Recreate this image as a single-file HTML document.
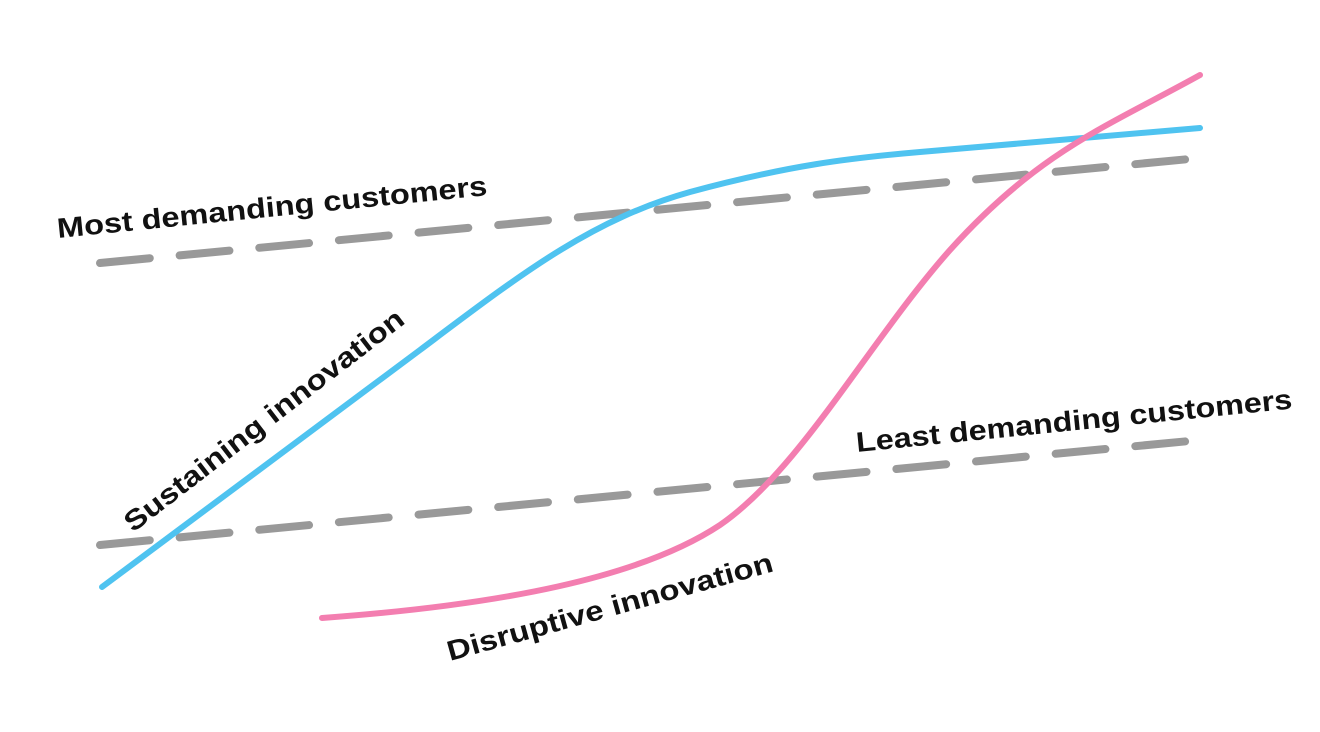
<!DOCTYPE html>
<html><head><meta charset="utf-8"><style>
html,body{margin:0;padding:0;background:#fff;}
svg{display:block;}
text{font-family:"Liberation Sans",sans-serif;font-weight:bold;font-size:28px;fill:#111;}
</style></head><body>
<svg width="1320" height="732" viewBox="0 0 1320 732" xmlns="http://www.w3.org/2000/svg">
<rect width="1320" height="732" fill="#fff"/>
<line x1="100" y1="263" x2="1200" y2="158" stroke="#999" stroke-width="8" stroke-dasharray="50 30" stroke-linecap="round"/>
<line x1="100" y1="545" x2="1200" y2="440" stroke="#999" stroke-width="8" stroke-dasharray="50 30" stroke-linecap="round"/>
<path d="M102,587 L420,350 C520,275 590,220 690,192 C790,165 850,158 920,152 L1200,128" fill="none" stroke="#4fc3f0" stroke-width="6" stroke-linecap="round"/>
<path d="M322,618 C500,605 640,578 720,525 C800,470 870,340 950,250 C1040,150 1110,125 1200,75" fill="none" stroke="#f37eb0" stroke-width="6" stroke-linecap="round"/>
<text transform="translate(58,238) rotate(-5.7)" textLength="432" lengthAdjust="spacingAndGlyphs">Most demanding customers</text>
<text transform="translate(857,452) rotate(-5.7)" textLength="438" lengthAdjust="spacingAndGlyphs">Least demanding customers</text>
<text transform="translate(133,533) rotate(-37.6)" textLength="345" lengthAdjust="spacingAndGlyphs">Sustaining innovation</text>
<text transform="translate(450,661) rotate(-15.5)" textLength="337" lengthAdjust="spacingAndGlyphs">Disruptive innovation</text>
</svg>
</body></html>
